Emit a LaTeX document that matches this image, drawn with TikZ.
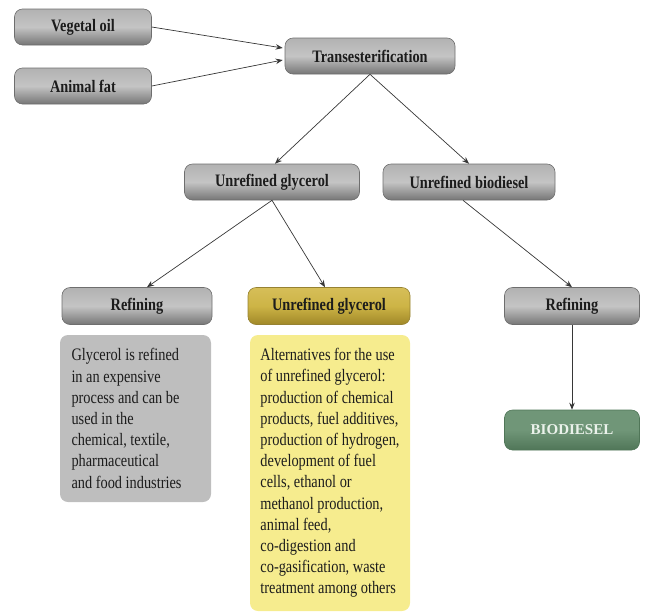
\documentclass[tikz,border=0pt]{standalone}
\usepackage{fontspec}
\setmainfont{Liberation Serif}
\newfontfamily\narrowserif[FakeStretch=0.82]{Liberation Serif}
\usetikzlibrary{arrows.meta}
\definecolor{gtop}{RGB}{178,178,178}
\definecolor{gmid}{RGB}{196,196,196}
\definecolor{gbot}{RGB}{118,118,118}
\definecolor{gedge}{RGB}{110,110,110}
\definecolor{ytop}{RGB}{214,190,88}
\definecolor{ymid}{RGB}{205,180,70}
\definecolor{ybot}{RGB}{160,136,40}
\definecolor{yedge}{RGB}{150,130,50}
\definecolor{greybox}{RGB}{190,190,190}
\definecolor{yellowbox}{RGB}{246,236,142}
\definecolor{gtop2}{RGB}{112,150,120}
\definecolor{gbot2}{RGB}{80,118,88}
\definecolor{txtdark}{RGB}{28,28,28}
\definecolor{arrowc}{RGB}{55,55,55}
\tikzset{
  hbox/.style={rounded corners=8pt, draw=gedge, line width=0.6pt,
    shading=axis, top color=gtop, bottom color=gbot, middle color=gmid,
    font=\narrowserif\fontsize{17.5}{19}\selectfont\bfseries, text=txtdark,
    inner sep=2pt, minimum height=36pt},
  ybox/.style={hbox, draw=yedge, top color=ytop, bottom color=ybot, middle color=ymid},
  bbox/.style={hbox, draw=gbot2, top color=gtop2, bottom color=gbot2, middle color=gtop2,
    font=\fontsize{15}{17}\selectfont\bfseries,
    text={rgb,255:red,235;green,242;blue,235}},
  tbox/.style={rounded corners=8pt, draw=none, align=left, inner sep=6pt,
    font=\narrowserif\fontsize{17.5}{21.2}\selectfont, text=txtdark},
  arr/.style={draw=arrowc, line width=0.7pt, -{Stealth[length=7pt,width=5.5pt]}}
}
\begin{document}
\begin{tikzpicture}[x=1pt,y=-1pt]
\useasboundingbox (0,0) rectangle (647,611);
\node[hbox, minimum width=137pt] (veg) at (83,27) {Vegetal oil};
\node[hbox, minimum width=137pt] (fat) at (83,86) {Animal fat};
\node[hbox, minimum width=170pt] (trans) at (370,56) {Transesterification};
\node[hbox, minimum width=175pt] (ugly) at (272,182) {Unrefined glycerol};
\node[hbox, minimum width=172pt] (ubio) at (469,182) {Unrefined biodiesel};
\node[hbox, minimum width=150pt, minimum height=37pt] (ref1) at (137,306) {Refining};
\node[ybox, minimum width=162pt, minimum height=37pt] (ugly2) at (329,306) {Unrefined glycerol};
\node[hbox, minimum width=135pt, minimum height=37pt] (ref2) at (572,306) {Refining};
\node[bbox, minimum width=135pt, minimum height=40pt] (bio) at (572,430) {BIODIESEL};
\node[tbox, fill=greybox, minimum width=151pt, minimum height=167pt] (txt1) at (135.5,418.5)
  {Glycerol is refined\\ in an expensive\\ process and can be\\ used in the\\ chemical, textile,\\ pharmaceutical\\ and food industries\hspace*{18pt}};
\node[tbox, fill=yellowbox, minimum width=160pt, minimum height=276pt] (txt2) at (330,473)
  {Alternatives for the use\\ of unrefined glycerol:\\ production of chemical\\ products, fuel additives,\\ production of hydrogen,\\ development of fuel\\ cells, ethanol or\\ methanol production,\\ animal feed,\\ co-digestion and\\ co-gasification, waste\\ treatment among others};
\draw[arr] (veg.east) -- ([xshift=-2pt,yshift=8pt]trans.west);
\draw[arr] (fat.east) -- ([xshift=-2pt,yshift=-4pt]trans.west);
\draw[arr] (trans.south) -- ([xshift=3pt]ugly.north);
\draw[arr] (trans.south) -- (ubio.north);
\draw[arr] (ugly.south) -- ([xshift=10pt]ref1.north);
\draw[arr] (ugly.south) -- ([xshift=-4pt]ugly2.north);
\draw[arr] ([xshift=-6pt]ubio.south) -- (ref2.north);
\draw[arr] (ref2.south) -- (bio.north);
\end{tikzpicture}
\end{document}
